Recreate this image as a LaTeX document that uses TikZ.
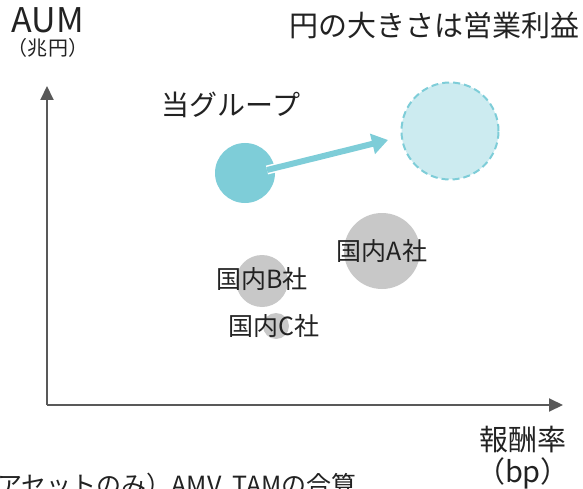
\documentclass[tikz,border=0pt]{standalone}
\usepackage{fontspec}
\setmainfont{Noto Sans CJK JP}
\usetikzlibrary{arrows.meta,calc}
\definecolor{grpblue}{HTML}{7ECDD8}
\definecolor{grplight}{HTML}{CCEBF0}
\definecolor{peer}{HTML}{C8C8C8}
\definecolor{axisgrey}{HTML}{595959}
\definecolor{ink}{HTML}{222222}
\tikzset{
  axis/.style={draw=axisgrey,line width=2pt,-{Triangle[length=14pt,width=13pt]}},
  bubble/.style={circle,inner sep=0pt,draw=none},
  lbl/.style={text=ink,inner sep=0pt,align=center},
}
\newcommand{\fs}[1]{\fontsize{#1}{#1}\selectfont}
\begin{document}
\begin{tikzpicture}[x=1pt,y=-1pt]
  \useasboundingbox (0,0) rectangle (583,489);
  \clip (0,0) rectangle (583,489);
  \coordinate (origin) at (47,405);
  \coordinate (ytip) at (47,86);
  \coordinate (xtip) at (563,405);
  \draw[axis] (origin) -- (ytip);
  \draw[axis] (origin) -- (xtip);
  % bubbles
  \node[bubble,fill=grplight,draw=grpblue,line width=2pt,
        dash pattern=on 7pt off 4pt,minimum size=97pt] (target) at (450,131) {};
  \node[bubble,fill=grpblue,minimum size=60pt] (group) at (245,173) {};
  \node[bubble,fill=peer,minimum size=76pt] (peerA) at (382,251) {};
  \node[bubble,fill=peer,minimum size=52pt] (peerB) at (262,281) {};
  \node[bubble,fill=peer,minimum size=26pt] (peerC) at (276,326) {};
  \coordinate (arrS) at (267,170);
  \coordinate (arrE) at (388,140);
  \draw[white,line width=9pt] (arrS) -- ($(arrS)!0.1!(arrE)$);
  \draw[grpblue,line width=6pt,-{Triangle[length=16pt,width=20pt]}] (arrS) -- (arrE);
  % labels
  \node[lbl,font=\fs{34}] (aum) at (48,20) {AUM};
  \node[lbl,font=\fs{20}] (aumunit) at (48,48) {（兆円）};
  \node[lbl,font=\fs{29}] (legend) at (434,25) {円の大きさは営業利益};
  \node[lbl,font=\fs{28}] (grplbl) at (231,105) {当グループ};
  \node[lbl,font=\fs{25}] at (peerA) {国内A社};
  \node[lbl,font=\fs{25}] at ($(peerB)+(0,-2)$) {国内B社};
  \node[lbl,font=\fs{25}] at ($(peerC)+(-2,0)$) {国内C社};
  \node[lbl,font=\fs{29}] (xlbl) at (523,440) {報酬率};
  \node[lbl,font=\fs{29}] (xunit) at (523,473) {（bp）};
  \node[lbl,font=\fs{25},anchor=west] (note) at (-3,486) {アセットのみ）AMV, TAMの合算};
\end{tikzpicture}
\end{document}
